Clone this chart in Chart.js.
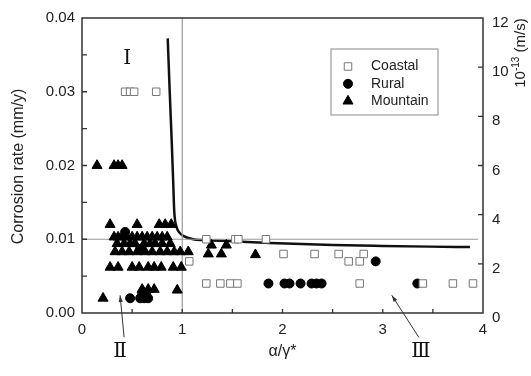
<!DOCTYPE html>
<html>
<head>
<meta charset="utf-8">
<script src="https://cdn.jsdelivr.net/npm/chart.js@4.4.1/dist/chart.umd.min.js"></script>
<style>
  html, body { margin: 0; padding: 0; background: #fff; }
  #wrap { width: 531px; height: 376px; }
</style>
</head>
<body>
<div id="wrap"><canvas id="chart"></canvas></div>
<script>
// Coastal (open squares)
const coastalX = [0.43, 0.48, 0.52, 0.74, 1.24, 1.53, 1.56, 1.835, 2.01, 2.32, 2.56, 2.81, 1.07, 2.66, 2.77, 1.24, 1.38, 1.48, 1.55, 2.77, 3.40, 3.70, 3.90];
const coastalY = [0.030, 0.030, 0.030, 0.030, 0.010, 0.010, 0.010, 0.010, 0.008, 0.008, 0.008, 0.008, 0.007, 0.007, 0.007, 0.004, 0.004, 0.004, 0.004, 0.004, 0.004, 0.004, 0.004];

// Rural (filled circles)
const ruralX = [0.43, 0.58, 0.48, 0.58, 0.62, 0.66, 0.60, 0.64, 1.86, 2.02, 2.07, 2.18, 2.29, 2.34, 2.39, 3.345, 2.93];
const ruralY = [0.011, 0.0087, 0.002, 0.002, 0.002, 0.002, 0.0025, 0.0025, 0.004, 0.004, 0.004, 0.004, 0.004, 0.004, 0.004, 0.004, 0.007];

// Mountain (filled triangles)
const mountainX = [
  0.15, 0.32, 0.36, 0.40,
  0.28, 0.55, 0.77, 0.83, 0.89,
  0.32, 0.36, 0.40, 0.45, 0.50, 0.55, 0.60, 0.65, 0.70, 0.75, 0.80, 0.85,
  0.35, 0.42, 0.48, 0.53, 0.62, 0.68, 0.73, 0.80, 0.88,
  0.33, 0.40, 0.47, 0.55, 0.63, 0.70, 0.78, 0.85, 0.92, 0.98, 1.06, 1.26, 1.39, 1.73,
  1.29, 1.44,
  0.28, 0.36, 0.50, 0.57, 0.66, 0.72, 0.79, 0.91, 0.99,
  0.60, 0.66, 0.72, 0.95,
  0.21
];
const mountainY = [
  0.020, 0.020, 0.020, 0.020,
  0.012, 0.012, 0.012, 0.012, 0.012,
  0.0103, 0.0103, 0.0103, 0.0103, 0.0103, 0.0103, 0.0103, 0.0103, 0.0103, 0.0103, 0.0103, 0.0103,
  0.0094, 0.0094, 0.0094, 0.0094, 0.0094, 0.0094, 0.0094, 0.0094, 0.0094,
  0.0083, 0.0083, 0.0083, 0.0083, 0.0083, 0.0083, 0.0083, 0.0083, 0.0083, 0.0083, 0.0083, 0.008, 0.008, 0.0079,
  0.0092, 0.0092,
  0.0062, 0.0062, 0.0062, 0.0062, 0.0062, 0.0062, 0.0062, 0.0062, 0.0062,
  0.0032, 0.0032, 0.0032, 0.0031,
  0.002
];

// boundary curve, right axis (10^-13 m/s)
const curveX = [0.855, 0.875, 0.895, 0.91, 0.92, 0.945, 0.97, 1.01, 1.11, 1.21, 1.5, 1.875, 2.5, 3.0, 3.47, 3.87];
const curveY = [11.17, 9.0, 6.97, 5.3, 4.15, 3.48, 3.28, 3.14, 3.0, 2.97, 2.92, 2.85, 2.77, 2.73, 2.70, 2.68];

// gray reference lines
const vLineX = [1, 1];
const vLineY = [0, 0.04];
const hLineX = [0, 3.95];
const hLineY = [0.01, 0.01];

// region labels: text, x, y (data units), arrow tip x, y
const regionText = ['Ⅰ', 'Ⅱ', 'Ⅲ'];
const regionX = [0.45, 0.38, 3.38];
const regionY = [0.0345, -0.0052, -0.0052];
const arrowTipX = [null, 0.38, 3.09];
const arrowTipY = [null, 0.0024, 0.0024];

const zip = (xs, ys) => xs.map((x, i) => ({x: x, y: ys[i]}));

const FONT = "'Liberation Sans', Arial, sans-serif";

const decorPlugin = {
    id: 'decor',
    afterDraw(chart) {
        const ctx = chart.ctx;
        const a = chart.chartArea;
        const xs = chart.scales.x, ys = chart.scales.y, y2 = chart.scales.y2;
        ctx.save();

        // frame
        ctx.strokeStyle = '#333';
        ctx.lineWidth = 1.5;
        ctx.strokeRect(a.left, a.top, a.right - a.left, a.bottom - a.top);

        // inward ticks
        ctx.lineWidth = 1.3;
        ctx.beginPath();
        for (let v = 0.005; v < 0.04; v += 0.005) {
            const p = ys.getPixelForValue(v);
            ctx.moveTo(a.left, p); ctx.lineTo(a.left + 5, p);
        }
        for (let v = 0.5; v < 4; v += 0.5) {
            const p = xs.getPixelForValue(v);
            ctx.moveTo(p, a.bottom); ctx.lineTo(p, a.bottom - 4);
        }
        for (let v = 2; v < 12; v += 2) {
            const p = y2.getPixelForValue(v);
            ctx.moveTo(a.right, p); ctx.lineTo(a.right - 5, p);
        }
        ctx.stroke();

        // legend
        const lx = 331, ly = 49, lw = 107, lh = 66;
        ctx.strokeStyle = '#888';
        ctx.lineWidth = 1;
        ctx.strokeRect(lx, ly, lw, lh);
        const names = ['Coastal', 'Rural', 'Mountain'];
        ctx.font = '14px ' + FONT;
        ctx.textBaseline = 'middle';
        ctx.textAlign = 'left';
        names.forEach((n, i) => {
            const ry = ly + 17.5 + i * 17.3;
            const ds = chart.data.datasets[i];
            ctx.fillStyle = ds.backgroundColor;
            ctx.strokeStyle = ds.borderColor;
            ctx.lineWidth = ds.pointBorderWidth || 1;
            Chart.helpers.drawPoint(ctx, {
                pointStyle: ds.pointStyle,
                radius: ds.pointRadius,
                borderWidth: ds.pointBorderWidth || 1,
                rotation: 0
            }, lx + 17, ry);
            ctx.fillStyle = '#222';
            ctx.fillText(n, lx + 40, ry);
        });

        // axis titles
        ctx.fillStyle = '#222';
        ctx.font = '16px ' + FONT;
        ctx.textAlign = 'center';
        ctx.save();
        ctx.translate(19, (a.top + a.bottom) / 2 + 1);
        ctx.rotate(-Math.PI / 2);
        ctx.fillText('Corrosion rate (mm/y)', 0, 0);
        ctx.restore();

        ctx.fillText('α/γ*', xs.getPixelForValue(2), 352);

        ctx.save();
        ctx.translate(521, 53);
        ctx.rotate(-Math.PI / 2);
        ctx.textAlign = 'left';
        const t1 = '10', t2 = '-13', t3 = ' (m/s)';
        ctx.font = '15px ' + FONT;
        const w1 = ctx.measureText(t1).width;
        const w3 = ctx.measureText(t3).width;
        ctx.font = '10px ' + FONT;
        const w2 = ctx.measureText(t2).width;
        let sx = -(w1 + w2 + w3) / 2;
        ctx.font = '15px ' + FONT;
        ctx.fillText(t1, sx, 0);
        ctx.font = '10px ' + FONT;
        ctx.fillText(t2, sx + w1, -5);
        ctx.font = '15px ' + FONT;
        ctx.fillText(t3, sx + w1 + w2, 0);
        ctx.restore();

        // region labels and arrows
        ctx.font = "20px 'DejaVu Serif', 'Liberation Serif', serif";
        ctx.fillStyle = '#111';
        ctx.strokeStyle = '#333';
        ctx.lineWidth = 1;
        regionText.forEach((t, i) => {
            const px = xs.getPixelForValue(regionX[i]);
            const py = ys.getPixelForValue(regionY[i]);
            ctx.fillText(t, px, py);
            if (arrowTipX[i] !== null) {
                const tx = xs.getPixelForValue(arrowTipX[i]);
                const ty = ys.getPixelForValue(arrowTipY[i]);
                const sx0 = px + (i === 1 ? 4 : -2), sy0 = py - 14;
                ctx.beginPath();
                ctx.moveTo(sx0, sy0); ctx.lineTo(tx, ty); ctx.stroke();
                const ang = Math.atan2(ty - sy0, tx - sx0);
                ctx.beginPath();
                ctx.moveTo(tx, ty);
                ctx.lineTo(tx - 7 * Math.cos(ang - 0.3), ty - 7 * Math.sin(ang - 0.3));
                ctx.lineTo(tx - 7 * Math.cos(ang + 0.3), ty - 7 * Math.sin(ang + 0.3));
                ctx.closePath();
                ctx.fillStyle = '#333';
                ctx.fill();
                ctx.fillStyle = '#111';
            }
        });

        ctx.restore();
    }
};

const config = {
    type: 'scatter',
    data: {
        datasets: [
            {
                label: 'Coastal',
                data: zip(coastalX, coastalY),
                pointStyle: 'rect',
                pointRadius: 5.3,
                pointBorderWidth: 1,
                borderColor: '#777',
                backgroundColor: '#fff',
                yAxisID: 'y'
            },
            {
                label: 'Rural',
                data: zip(ruralX, ruralY),
                pointStyle: 'circle',
                pointRadius: 4.5,
                borderColor: '#000',
                backgroundColor: '#000',
                yAxisID: 'y'
            },
            {
                label: 'Mountain',
                data: zip(mountainX, mountainY),
                pointStyle: 'triangle',
                pointRadius: 5.8,
                borderColor: '#000',
                backgroundColor: '#000',
                yAxisID: 'y'
            },
            {
                type: 'line',
                data: zip(vLineX, vLineY),
                borderColor: '#999',
                borderWidth: 1.2,
                pointRadius: 0,
                yAxisID: 'y'
            },
            {
                type: 'line',
                data: zip(hLineX, hLineY),
                borderColor: '#999',
                borderWidth: 1.2,
                pointRadius: 0,
                yAxisID: 'y'
            },
            {
                type: 'line',
                data: zip(curveX, curveY),
                borderColor: '#111',
                borderWidth: 2.5,
                pointRadius: 0,
                cubicInterpolationMode: 'monotone',
                yAxisID: 'y2'
            }
        ]
    },
    options: {
        responsive: true,
        maintainAspectRatio: false,
        animation: false,
        layout: { padding: { top: 15, left: 0, right: 0, bottom: 0 } },
        plugins: {
            legend: { display: false },
            tooltip: { enabled: false }
        },
        scales: {
            x: {
                type: 'linear',
                min: 0, max: 4,
                grid: { display: false, drawTicks: false },
                border: { display: false },
                ticks: { stepSize: 1, padding: 8, color: '#222', font: { size: 15, family: FONT } },
                afterFit(scale) { scale.height = 63; }
            },
            y: {
                position: 'left',
                min: 0, max: 0.04,
                grid: { display: false, drawTicks: false },
                border: { display: false },
                ticks: {
                    stepSize: 0.01, padding: 7, color: '#222',
                    font: { size: 15, family: FONT },
                    callback: v => v.toFixed(2)
                },
                afterFit(scale) { scale.width = 82; }
            },
            y2: {
                position: 'right',
                min: 0, max: 12,
                grid: { display: false, drawTicks: false },
                border: { display: false },
                ticks: { stepSize: 2, padding: 9, labelOffset: 5, color: '#222', font: { size: 15, family: FONT } },
                afterFit(scale) { scale.width = 48; }
            }
        }
    },
    plugins: [decorPlugin]
};

const chart = new Chart(document.getElementById('chart'), config);
</script>
</body>
</html>
